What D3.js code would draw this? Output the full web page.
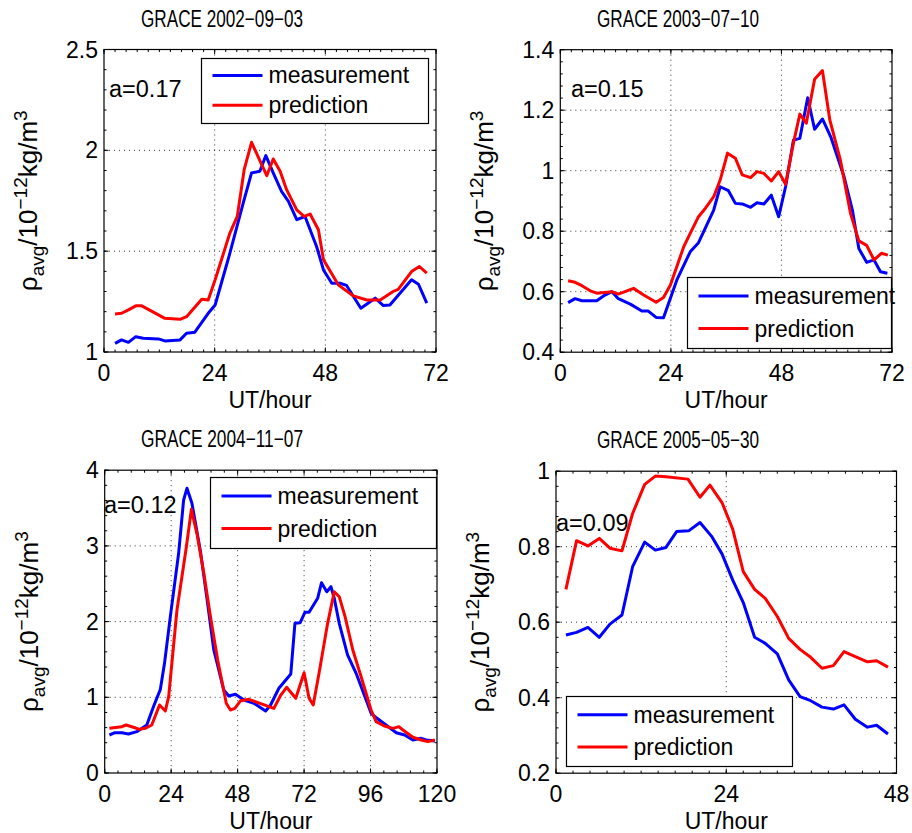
<!DOCTYPE html>
<html>
<head>
<meta charset="utf-8">
<script src="https://cdn.jsdelivr.net/npm/d3@7"></script>
<style>
  body { margin: 0; background: #fff; }
  text { font-family: "Liberation Sans", Arial, Helvetica, sans-serif; fill: #000; }
</style>
</head>
<body>
<div id="chart"></div>
<script>
// values, [UT hour, density]
var meas0209 = [[2.4,1.043],[3.8,1.06],[5.3,1.048],[6.9,1.076],[8.5,1.068],[11.8,1.065],[13.2,1.055],[16.5,1.06],[17.9,1.093],[19.7,1.098],[22.6,1.192],[24.1,1.233],[27.3,1.49],[30.2,1.739],[32.0,1.888],[33.8,1.896],[35.1,1.974],[36.7,1.888],[38.5,1.796],[40.0,1.747],[41.8,1.656],[43.6,1.672],[46.1,1.523],[47.6,1.407],[49.4,1.341],[51.2,1.341],[52.6,1.33],[55.7,1.217],[58.8,1.267],[60.6,1.23],[62.0,1.233],[66.7,1.358],[68.2,1.336],[70.0,1.242]];
var pred0209 = [[2.4,1.189],[3.8,1.192],[5.3,1.209],[6.9,1.229],[8.2,1.229],[13.2,1.167],[16.5,1.162],[17.9,1.175],[21.2,1.262],[22.6,1.258],[24.1,1.358],[27.3,1.59],[28.9,1.672],[30.4,1.904],[32.0,2.04],[33.7,1.954],[35.3,1.874],[36.7,1.957],[38.2,1.896],[39.6,1.805],[41.8,1.705],[43.4,1.672],[44.7,1.684],[46.5,1.606],[47.6,1.457],[50.8,1.333],[54.1,1.278],[57.0,1.258],[59.9,1.258],[62.7,1.3],[63.8,1.311],[66.7,1.399],[68.4,1.424],[70.0,1.391]];

var meas0307 = [[1.7,0.564],[3.2,0.577],[4.7,0.57],[7.9,0.57],[9.7,0.589],[11.2,0.6],[12.6,0.577],[15.2,0.559],[17.7,0.536],[19.1,0.536],[20.8,0.515],[22.4,0.514],[25.3,0.639],[28.2,0.732],[30.0,0.762],[33.3,0.87],[34.7,0.947],[36.5,0.934],[38.0,0.892],[39.5,0.89],[41.3,0.879],[42.7,0.894],[44.2,0.89],[45.8,0.919],[47.4,0.848],[48.9,0.947],[50.6,1.101],[52.0,1.107],[53.7,1.241],[55.2,1.137],[56.9,1.171],[58.7,1.112],[61.6,0.98],[63.4,0.87],[64.8,0.743],[66.5,0.697],[68.1,0.705],[69.5,0.666],[71.0,0.661]];
var pred0307 = [[1.7,0.636],[3.2,0.631],[4.7,0.62],[6.5,0.603],[7.9,0.595],[11.2,0.6],[12.6,0.592],[15.9,0.611],[18.1,0.589],[20.8,0.565],[22.4,0.581],[23.9,0.622],[26.8,0.749],[28.2,0.793],[30.0,0.848],[31.5,0.876],[33.3,0.914],[34.7,0.969],[36.3,1.058],[38.0,1.041],[39.5,0.986],[41.3,0.977],[42.7,0.997],[44.2,0.991],[45.8,0.966],[47.4,0.997],[48.9,0.955],[50.6,1.091],[52.0,1.187],[53.4,1.157],[55.2,1.302],[56.9,1.331],[58.5,1.168],[60.8,1.035],[63.0,0.859],[64.8,0.768],[66.5,0.753],[68.1,0.705],[69.7,0.727],[71.1,0.721]];

var meas0411 = [[1.7,0.502],[3.7,0.532],[6.2,0.532],[8.6,0.515],[11.6,0.546],[15.2,0.634],[17.6,0.876],[20.1,1.105],[21.6,1.449],[23.7,2.065],[26.7,2.902],[28.5,3.606],[29.7,3.761],[31.5,3.563],[34.6,2.923],[37.0,2.285],[39.4,1.625],[43.0,1.096],[44.8,1.017],[47.2,1.04],[50.3,0.964],[53.9,0.921],[58.1,0.819],[59.9,0.898],[62.9,1.119],[65.4,1.229],[67.2,1.308],[68.7,1.977],[70.6,1.986],[72.3,2.123],[73.8,2.123],[76.9,2.308],[78.3,2.514],[80.2,2.395],[81.7,2.461],[82.9,2.308],[84.7,1.977],[87.7,1.559],[90.8,1.317],[96.2,0.789],[97.6,0.744],[101.6,0.634],[105.3,0.532],[108.3,0.502],[111.3,0.436],[114.3,0.458],[116.1,0.436],[119.2,0.423]];
var pred0411 = [[1.7,0.59],[6.2,0.612],[7.7,0.634],[10.4,0.604],[12.6,0.577],[14.6,0.59],[17.0,0.634],[19.8,0.898],[21.9,0.819],[23.1,1.008],[26.1,2.153],[29.5,2.99],[31.3,3.483],[33.4,3.144],[35.8,2.638],[38.2,2.065],[40.8,1.493],[43.9,0.921],[45.4,0.832],[47.0,0.854],[49.1,0.955],[52.1,0.973],[55.1,0.934],[58.1,0.894],[61.1,0.854],[63.6,1.03],[65.7,1.132],[69.0,0.987],[72.0,1.325],[73.8,0.987],[75.3,0.898],[77.4,1.317],[80.5,1.977],[82.9,2.395],[84.7,2.329],[86.8,2.065],[89.6,1.625],[92.6,1.272],[96.2,0.832],[98.0,0.678],[101.0,0.621],[104.1,0.59],[106.2,0.612],[107.7,0.568],[111.3,0.472],[114.3,0.436],[116.7,0.414],[119.2,0.436]];

var meas0505 = [[1.4,0.566],[2.9,0.573],[4.5,0.586],[6.1,0.56],[7.6,0.595],[9.3,0.619],[10.8,0.747],[12.5,0.812],[14.0,0.791],[15.5,0.798],[17.0,0.84],[18.7,0.842],[20.3,0.864],[22.0,0.826],[23.4,0.781],[24.9,0.712],[26.4,0.652],[28.0,0.56],[29.5,0.544],[31.2,0.516],[32.8,0.447],[34.4,0.403],[35.9,0.392],[37.5,0.375],[39.1,0.37],[40.6,0.381],[42.2,0.343],[43.9,0.322],[45.2,0.327],[46.8,0.304]];
var pred0505 = [[1.4,0.687],[2.9,0.816],[4.5,0.802],[6.1,0.822],[7.6,0.796],[9.3,0.789],[10.8,0.888],[12.5,0.965],[14.0,0.987],[15.5,0.985],[18.6,0.979],[20.3,0.931],[21.7,0.963],[23.4,0.917],[24.9,0.847],[26.4,0.734],[28.0,0.687],[29.5,0.663],[31.2,0.615],[32.8,0.557],[34.4,0.528],[35.9,0.507],[37.5,0.478],[39.1,0.485],[40.6,0.522],[42.2,0.509],[43.9,0.495],[45.2,0.498],[46.8,0.481]];

var titles = ["GRACE 2002\u221209\u221203", "GRACE 2003\u221207\u221210", "GRACE 2004\u221211\u221207", "GRACE 2005\u221205\u221230"];
var aValues = ["a=0.17", "a=0.15", "a=0.12", "a=0.09"];
var legendNames = ["measurement", "prediction"];
var colors = ["#0000ff", "#ff0000"];

var panels = [
  { title: titles[0], a: aValues[0], meas: meas0209, pred: pred0209,
    box: [104, 436, 49.5, 352], xDom: [0, 72], xTicks: [0, 24, 48, 72], xMinor: 2.4,
    yDom: [1, 2.5], yTicks: [1, 1.5, 2, 2.5], yMinor: 0.1,
    tx: 222, aPos: [109, 97], leg: [201.5, 58.5, 227, 65] },
  { title: titles[1], a: aValues[1], meas: meas0307, pred: pred0307,
    box: [560.3, 892, 49.7, 352.2], xDom: [0, 72], xTicks: [0, 24, 48, 72], xMinor: 2.4,
    yDom: [0.4, 1.4], yTicks: [0.4, 0.6, 0.8, 1, 1.2, 1.4], yMinor: 0.04,
    tx: 678, aPos: [571, 97], leg: [687.5, 277.5, 204, 71] },
  { title: titles[2], a: aValues[2], meas: meas0411, pred: pred0411,
    box: [104.7, 437, 470.2, 773], xDom: [0, 120], xTicks: [0, 24, 48, 72, 96, 120], xMinor: 4.8,
    yDom: [0, 4], yTicks: [0, 1, 2, 3, 4], yMinor: 0.2,
    tx: 222, aPos: [104, 513], leg: [210.5, 477.5, 226, 71] },
  { title: titles[3], a: aValues[3], meas: meas0505, pred: pred0505,
    box: [556, 896.5, 471.2, 773.2], xDom: [0, 48], xTicks: [0, 24, 48], xMinor: 2.4,
    yDom: [0.2, 1], yTicks: [0.2, 0.4, 0.6, 0.8, 1], yMinor: 0.04,
    tx: 678, aPos: [556, 531], leg: [566.5, 696.5, 226, 70] }
];

var svg = d3.select("#chart")
  .append("svg")
  .attr("width", 912)
  .attr("height", 833);

function fmt(v) {
  return d3.format("~g")(+v.toFixed(3));
}

panels.forEach(function (p) {
  var L = p.box[0], R = p.box[1], T = p.box[2], B = p.box[3];
  var x = d3.scaleLinear().domain(p.xDom).range([L, R]);
  var y = d3.scaleLinear().domain(p.yDom).range([B, T]);
  var g = svg.append("g");

  // dotted grid at the major ticks
  g.selectAll(".gx").data(p.xTicks.slice(1, -1)).enter().append("line")
    .attr("x1", function (d) { return x(d); }).attr("x2", function (d) { return x(d); })
    .attr("y1", T).attr("y2", B)
    .attr("stroke", "#000").attr("stroke-width", 0.8).attr("stroke-dasharray", "1,4");
  g.selectAll(".gy").data(p.yTicks.slice(1, -1)).enter().append("line")
    .attr("y1", function (d) { return y(d); }).attr("y2", function (d) { return y(d); })
    .attr("x1", L).attr("x2", R)
    .attr("stroke", "#000").attr("stroke-width", 0.8).attr("stroke-dasharray", "1,4");

  // minor + major ticks pointing inward on all four sides
  var xm = d3.range(p.xDom[0], p.xDom[1] + 1e-6, p.xMinor);
  var ym = d3.range(p.yDom[0], p.yDom[1] + 1e-6, p.yMinor);
  [B, T].forEach(function (yy, k) {
    var s = k === 0 ? -1 : 1;
    g.selectAll(null).data(xm).enter().append("line")
      .attr("x1", function (d) { return x(d); }).attr("x2", function (d) { return x(d); })
      .attr("y1", yy).attr("y2", yy + s * 2.5)
      .attr("stroke", "#000").attr("stroke-width", 1);
    g.selectAll(null).data(p.xTicks).enter().append("line")
      .attr("x1", function (d) { return x(d); }).attr("x2", function (d) { return x(d); })
      .attr("y1", yy).attr("y2", yy + s * 4.5)
      .attr("stroke", "#000").attr("stroke-width", 1);
  });
  [L, R].forEach(function (xx, k) {
    var s = k === 0 ? 1 : -1;
    g.selectAll(null).data(ym).enter().append("line")
      .attr("y1", function (d) { return y(d); }).attr("y2", function (d) { return y(d); })
      .attr("x1", xx).attr("x2", xx + s * 2.5)
      .attr("stroke", "#000").attr("stroke-width", 1);
    g.selectAll(null).data(p.yTicks).enter().append("line")
      .attr("y1", function (d) { return y(d); }).attr("y2", function (d) { return y(d); })
      .attr("x1", xx).attr("x2", xx + s * 4.5)
      .attr("stroke", "#000").attr("stroke-width", 1);
  });

  // the two series
  var line = d3.line()
    .x(function (d) { return x(d[0]); })
    .y(function (d) { return y(d[1]); });
  [p.meas, p.pred].forEach(function (s, i) {
    g.append("path").datum(s)
      .attr("d", line)
      .attr("fill", "none")
      .attr("stroke", colors[i])
      .attr("stroke-width", 3)
      .attr("stroke-linejoin", "round");
  });

  // frame
  g.append("rect")
    .attr("x", L).attr("y", T).attr("width", R - L).attr("height", B - T)
    .attr("fill", "none").attr("stroke", "#000").attr("stroke-width", 1.2);

  // tick labels
  g.selectAll(null).data(p.xTicks).enter().append("text")
    .attr("x", function (d) { return x(d); })
    .attr("y", B + 29)
    .attr("text-anchor", "middle")
    .style("font-size", "23px")
    .text(function (d) { return d; });
  g.selectAll(null).data(p.yTicks).enter().append("text")
    .attr("x", L - 6)
    .attr("y", function (d) { return y(d) + 8; })
    .attr("text-anchor", "end")
    .style("font-size", "23px")
    .text(function (d) { return fmt(d); });

  // axis labels
  g.append("text")
    .attr("x", (L + R) / 2).attr("y", B + 56)
    .attr("text-anchor", "middle")
    .style("font-size", "23px")
    .text("UT/hour");

  var yl = g.append("text")
    .attr("transform", "translate(" + (L - 67) + "," + (T + B) / 2 + ") rotate(-90)")
    .attr("text-anchor", "middle")
    .style("font-size", "26px");
  yl.append("tspan").text("\u03c1");
  yl.append("tspan").attr("dy", 7).style("font-size", "19px").text("avg");
  yl.append("tspan").attr("dy", -7).text("/10");
  yl.append("tspan").attr("dy", -10).style("font-size", "19px").text("\u221212");
  yl.append("tspan").attr("dy", 10).text("kg/m");
  yl.append("tspan").attr("dy", -10).style("font-size", "19px").text("3");

  // title, set in a condensed width like the original
  g.append("text")
    .attr("x", p.tx).attr("y", T - 23)
    .attr("text-anchor", "middle")
    .attr("textLength", 162)
    .attr("lengthAdjust", "spacingAndGlyphs")
    .style("font-size", "23px")
    .text(p.title);

  // a= annotation
  g.append("text")
    .attr("x", p.aPos[0]).attr("y", p.aPos[1])
    .style("font-size", "23.5px")
    .text(p.a);

  // legend
  var lg = g.append("g").attr("transform", "translate(" + p.leg[0] + "," + p.leg[1] + ")");
  lg.append("rect")
    .attr("width", p.leg[2]).attr("height", p.leg[3])
    .attr("fill", "#fff").attr("stroke", "#000").attr("stroke-width", 1.2);
  legendNames.forEach(function (name, i) {
    var cy = p.leg[3] * (i === 0 ? 0.26 : 0.72);
    lg.append("line")
      .attr("x1", 11).attr("x2", 61).attr("y1", cy).attr("y2", cy)
      .attr("stroke", colors[i]).attr("stroke-width", 3);
    lg.append("text")
      .attr("x", 67).attr("y", cy + 8)
      .style("font-size", "23px")
      .text(name);
  });
});
</script>
</body>
</html>
